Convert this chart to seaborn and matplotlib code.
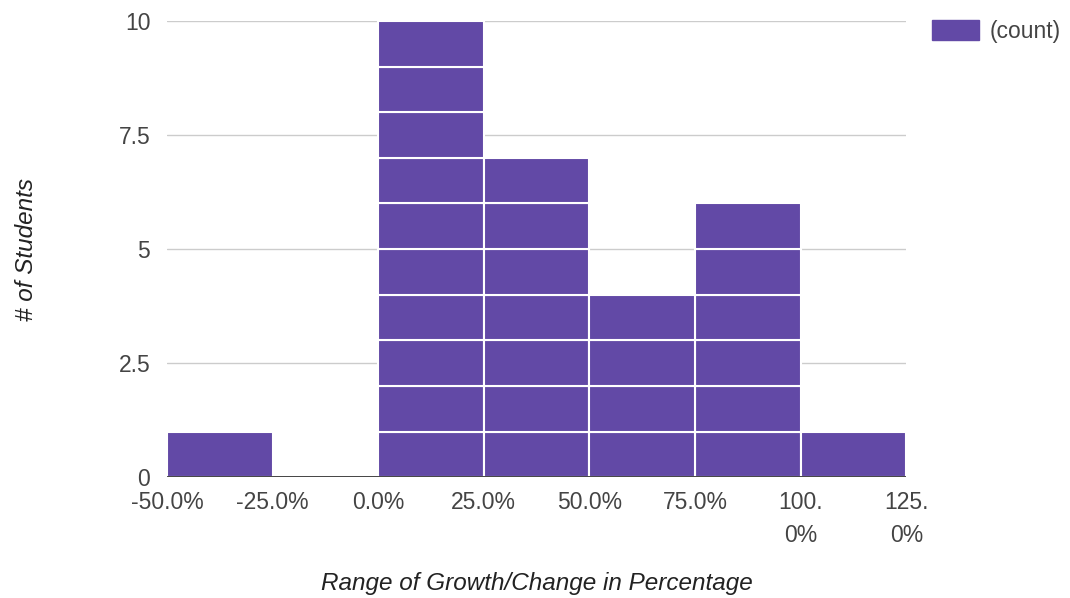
"""Histogram of student growth/change, Google-Charts style."""

import matplotlib

matplotlib.use("Agg")
import matplotlib.pyplot as plt
from matplotlib.patches import Patch
import pandas as pd
import seaborn as sns


BIN_EDGES = [-50, -25, 0, 25, 50, 75, 100, 125]
BIN_COUNTS = [1, 0, 10, 7, 4, 6, 1]
TICK_LABELS = ["-50.0%", "-25.0%", "0.0%", "25.0%", "50.0%", "75.0%", "100.\n0%", "125.\n0%"]
Y_TICKS = [0, 2.5, 5, 7.5, 10]
Y_TICK_LABELS = ["0", "2.5", "5", "7.5", "10"]

BAR_COLOR = "#6249a6"
TEXT_COLOR = "#444444"
FONT_SIZE = 16.5

# one row per student so each unit block gets its own white outline
rows = []
for left, right, count in zip(BIN_EDGES[:-1], BIN_EDGES[1:], BIN_COUNTS):
    for level in range(count):
        rows.append({"growth": (left + right) / 2, "level": level})
df = pd.DataFrame(rows)

sns.set_style("white")
plt.rcParams["font.family"] = ["Liberation Sans", "DejaVu Sans"]

fig = plt.figure(figsize=(10.7, 5.98), dpi=100)
ax = fig.add_axes([0.156, 0.202, 0.691, 0.763])

n_levels = df["level"].nunique()
sns.histplot(
    data=df,
    x="growth",
    hue="level",
    bins=BIN_EDGES,
    multiple="stack",
    palette=[BAR_COLOR] * n_levels,
    edgecolor="white",
    linewidth=1.5,
    alpha=1,
    legend=False,
    ax=ax,
    zorder=2,
)

ax.set_xlim(BIN_EDGES[0], BIN_EDGES[-1])
ax.set_ylim(0, 10)
ax.set_yticks(Y_TICKS)
ax.set_yticklabels(Y_TICK_LABELS)
ax.set_xticks(BIN_EDGES)
ax.set_xticklabels(TICK_LABELS, linespacing=1.55, va="top")
ax.tick_params(axis="both", length=0, labelsize=FONT_SIZE, colors=TEXT_COLOR)
ax.tick_params(axis="x", pad=10)
ax.tick_params(axis="y", pad=12)

ax.grid(axis="y", color="#cccccc", linewidth=1, zorder=0)
ax.set_axisbelow(True)
ax.axhline(0, color="#333333", linewidth=2, zorder=3)
sns.despine(ax=ax, left=True, bottom=True)

ax.set_xlabel("Range of Growth/Change in Percentage", fontsize=17.5, style="italic",
              color="#222222")
ax.set_ylabel("# of Students", fontsize=17.5, style="italic", color="#222222")
ax.xaxis.set_label_coords(0.5, -0.232)
ax.yaxis.set_label_coords(-0.19, 0.5)
ax.xaxis.label.set_va("center")
ax.yaxis.label.set_va("center")

fig.legend(
    handles=[Patch(facecolor=BAR_COLOR, edgecolor=BAR_COLOR)],
    labels=["(count)"],
    loc="upper left",
    bbox_to_anchor=(932 / 1070, 1 - 20 / 598),
    frameon=False,
    borderpad=0,
    borderaxespad=0,
    fontsize=16.5,
    handlelength=2.05,
    handleheight=0.95,
    handletextpad=0.45,
    labelcolor=TEXT_COLOR,
)

fig.savefig("out.png", dpi=100)
plt.close(fig)
